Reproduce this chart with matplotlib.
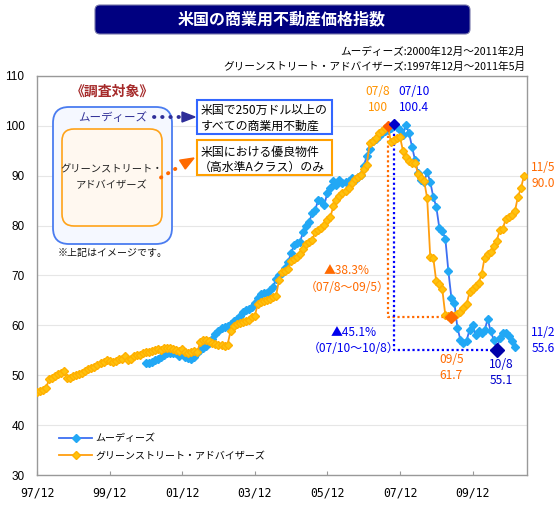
import numpy as np
import matplotlib
matplotlib.use('Agg')
import matplotlib.pyplot as plt
from matplotlib.patches import FancyBboxPatch, Polygon, Rectangle

plt.rcParams['font.family'] = ['Noto Sans CJK JP', 'DejaVu Sans']

# ---------------- data ----------------
title = '米国の商業用不動産価格指数'
subtitle_moodys = 'ムーディーズ:2000年12月～2011年2月'
subtitle_gs = 'グリーンストリート・アドバイザーズ:1997年12月～2011年5月'
series_names = ['ムーディーズ', 'グリーンストリート・アドバイザーズ']

base_ym = (1997, 12)
moodys_start = (2000, 12)
gs_start = (1997, 12)

moodys = [
    52.4, 52.4, 52.6, 53.0, 53.3, 53.6, 54.0, 54.4, 54.5, 54.5,
    54.5, 53.9, 54.4, 53.6, 53.4, 53.2, 53.6, 54.4, 55.0, 55.5,
    55.8, 56.5, 57.3, 58.2, 58.9, 59.5, 59.6, 59.9, 60.3, 60.8,
    61.2, 61.9, 62.6, 63.0, 63.3, 63.6, 64.5, 65.4, 66.3, 66.4,
    66.5, 67.0, 67.6, 69.3, 70.0, 70.6, 71.5, 72.7, 74.5, 76.1,
    76.5, 76.8, 78.8, 80.0, 80.8, 82.5, 83.2, 85.2, 84.9, 84.2,
    86.6, 87.6, 88.9, 88.2, 89.2, 88.5, 88.7, 88.9, 89.5, 89.2,
    89.7, 90.2, 91.9, 93.9, 95.4, 96.9, 97.4, 97.9, 98.5, 98.9,
    99.2, 99.5, 100.4, 99.8, 99.2, 98.2, 100.2, 98.5, 95.8, 93.1,
    90.5, 89.1, 88.8, 90.7, 88.8, 85.8, 83.8, 79.6, 78.9, 77.4,
    70.9, 65.5, 64.5, 59.5, 57.1, 56.4, 56.9, 59.1, 60.1, 58.1,
    58.9, 58.4, 59.0, 61.3, 58.8, 57.1, 55.1, 57.4, 58.4, 58.4,
    57.8, 56.8, 55.6,
]

gs = [
    46.6, 46.9, 47.1, 47.4, 49.3, 49.5, 49.9, 50.2, 50.5, 50.9,
    49.4, 49.5, 49.8, 50.0, 50.2, 50.5, 50.9, 51.3, 51.5, 51.7,
    52.0, 52.4, 52.7, 53.0, 52.8, 52.7, 52.9, 53.2, 53.3, 53.8,
    53.1, 53.2, 53.8, 54.0, 54.1, 54.4, 54.7, 54.6, 54.8, 55.0,
    55.2, 55.0, 55.5, 55.4, 55.5, 55.2, 55.0, 54.9, 55.2, 54.7,
    54.4, 54.6, 54.8, 54.7, 56.7, 57.0, 57.1, 56.8, 56.5, 56.2,
    56.1, 56.0, 55.9, 56.1, 58.9, 59.9, 60.2, 60.5, 60.6, 60.8,
    61.1, 61.6, 61.9, 64.3, 64.6, 64.8, 65.0, 65.3, 65.6, 65.9,
    69.0, 70.7, 71.0, 71.4, 73.0, 73.4, 73.8, 74.4, 75.4, 76.4,
    76.8, 77.1, 78.8, 79.1, 79.5, 80.1, 81.1, 81.8, 83.9, 85.2,
    85.9, 86.5, 87.0, 87.5, 88.5, 89.3, 89.8, 90.2, 91.4, 92.2,
    96.5, 96.9, 97.5, 98.5, 98.9, 99.5, 100.0, 96.8, 97.2, 97.5,
    97.8, 95.0, 93.8, 93.0, 92.6, 92.6, 90.3, 89.6, 88.9, 85.5,
    73.8, 73.6, 68.8, 68.3, 67.2, 62.0, 61.9, 61.7, 61.8, 62.2,
    62.6, 63.5, 64.2, 66.6, 67.3, 67.8, 68.5, 70.3, 73.6, 74.3,
    74.8, 76.0, 77.0, 79.1, 79.4, 81.4, 81.8, 82.2, 82.9, 85.8,
    87.5, 90.0,
]

xtick_labels = ['97/12', '99/12', '01/12', '03/12', '05/12', '07/12', '09/12']
xtick_dates = [(1997, 12), (1999, 12), (2001, 12), (2003, 12), (2005, 12), (2007, 12), (2009, 12)]
yticks = [30, 40, 50, 60, 70, 80, 90, 100, 110]

gs_peak = ((2007, 8), 100.0, '07/8')
moodys_peak = ((2007, 10), 100.4, '07/10')
gs_trough = ((2009, 5), 61.7, '09/5')
moodys_trough = ((2010, 8), 55.1, '10/8')
gs_last = ((2011, 5), 90.0, '11/5')
moodys_last = ((2011, 2), 55.6, '11/2')
gs_drop = ('▲38.3%', '（07/8～09/5）')
moodys_drop = ('▲45.1%', '（07/10～10/8）')

inset_title = '《調査対象》'
inset_outer = 'ムーディーズ'
inset_inner = 'グリーンストリート・\nアドバイザーズ'
inset_note = '※上記はイメージです。'
moodys_desc = ['米国で250万ドル以上の', 'すべての商業用不動産']
gs_desc = ['米国における優良物件', '（高水準Aクラス）のみ']


def midx(ym):
    return (ym[0] - base_ym[0]) * 12 + (ym[1] - base_ym[1])


mx = midx(moodys_start) + np.arange(len(moodys))
gx = midx(gs_start) + np.arange(len(gs))

# colours
C_BLUE_LINE = '#3D6FF2'
C_BLUE_MK = '#22A8F5'
C_OR_LINE = '#FF9E0F'
C_OR_MK = '#FFC20E'
C_OR_TXT = '#FF6A00'
C_OR_TXT2 = '#FF9300'
C_BL_TXT = '#0000EE'

W, H = 558, 508
fig = plt.figure(figsize=(W / 100, H / 100), dpi=100)
ax = fig.add_axes([37 / W, 33 / H, 490 / W, 399 / H])
ax.set_xlim(0, 162)
ax.set_ylim(30, 110)

ax.set_axisbelow(True)
ax.yaxis.grid(True, color='#E6E6E6', lw=0.8)
for s in ax.spines.values():
    s.set_color('#999999')
    s.set_linewidth(1.0)

ax.plot(mx, moodys, color=C_BLUE_LINE, lw=1.3, marker='D', ms=3.8,
        mfc=C_BLUE_MK, mec=C_BLUE_MK, zorder=3, label=series_names[0])
ax.plot(gx, gs, color=C_OR_LINE, lw=1.3, marker='D', ms=3.8,
        mfc=C_OR_MK, mec='#FFB000', zorder=4, label=series_names[1])

# guide dotted lines
gp, gt = midx(gs_peak[0]), midx(gs_trough[0])
mp, mt = midx(moodys_peak[0]), midx(moodys_trough[0])
ax.plot([gp, gp, gt], [gs_peak[1], gs_trough[1], gs_trough[1]], color='#FF6A00',
        ls=(0, (1, 1.2)), lw=1.6, zorder=2)
ax.plot([mp, mp, mt], [moodys_peak[1], moodys_trough[1], moodys_trough[1]], color='#0000FF',
        ls=(0, (1, 1.2)), lw=1.6, zorder=2)

# highlighted points
ax.plot(gp, gs_peak[1], 'D', color='#FF5A00', ms=5.5, zorder=6)
ax.plot(mp, moodys_peak[1], 'D', color='#0000CC', ms=5.5, zorder=6)
ax.plot(gt, gs_trough[1], 'D', color='#FF6A00', ms=6.5, zorder=6)
ax.plot(mt, moodys_trough[1], 'D', color='#0000AA', ms=7, zorder=6)

fs_ann = 8.6
kw = dict(ha='center', va='center', fontsize=fs_ann, linespacing=1.35, clip_on=False)
ax.text(112.7, 105.3, f'{gs_peak[2]}\n{gs_peak[1]:g}', color=C_OR_TXT2, **kw)
ax.text(124.6, 105.3, f'{moodys_peak[2]}\n{moodys_peak[1]}', color=C_BL_TXT, **kw)
ax.text(167.4, 90.1, f'{gs_last[2]}\n{gs_last[1]:.1f}', color=C_OR_TXT, **kw)
ax.text(167.4, 57.0, f'{moodys_last[2]}\n{moodys_last[1]}', color=C_BL_TXT, **kw)
ax.text(137.0, 51.6, f'{gs_trough[2]}\n{gs_trough[1]}', color=C_OR_TXT, **kw)
ax.text(153.4, 50.6, f'{moodys_trough[2]}\n{moodys_trough[1]}', color='#0000CC', **kw)
ax.text(102.5, 69.3, f'{gs_drop[0]}\n{gs_drop[1]}', color=C_OR_TXT, **kw)
ax.text(104.6, 57.0, f'{moodys_drop[0]}\n{moodys_drop[1]}', color=C_BL_TXT, **kw)

# ticks
ax.set_xticks([midx(d) for d in xtick_dates])
ax.set_xticklabels(xtick_labels, fontfamily='DejaVu Sans Mono', fontsize=8.3)
ax.set_yticks(yticks)
ax.set_yticklabels([str(v) for v in yticks], fontfamily='Liberation Sans', fontsize=8.5)
ax.tick_params(axis='x', direction='in', length=3, color='#999999', pad=8)
ax.tick_params(axis='y', length=0, pad=9)

leg = ax.legend(loc='upper left', bbox_to_anchor=(0.045, 0.105), frameon=False,
                fontsize=7.2, handlelength=3.3, labelspacing=0.75, handletextpad=0.3,
                borderaxespad=0, borderpad=0)

# ---------------- overlay decorations (pixel coords) ----------------
ov = fig.add_axes([0, 0, 1, 1], zorder=10)
ov.set_xlim(0, W)
ov.set_ylim(H, 0)
ov.axis('off')
ov.patch.set_alpha(0)

ov.add_patch(FancyBboxPatch((95, 5), 375, 29, boxstyle='round,pad=0,rounding_size=5',
                            fc='#000080', ec='#7777AA', lw=0.8))
ov.text(282, 19.5, title, color='white', fontsize=11.5, fontweight='bold', ha='center', va='center')
ov.text(525, 52, subtitle_moodys, fontsize=7.7, ha='right', va='center')
ov.text(525, 67, subtitle_gs, fontsize=7.7, ha='right', va='center')

# inset image
ov.add_patch(FancyBboxPatch((53, 107), 119, 137, boxstyle='round,pad=0,rounding_size=16',
                            fc='#F5F8FF', ec='#4A7CF0', lw=1.3))
ov.add_patch(FancyBboxPatch((62, 129), 100, 97, boxstyle='round,pad=0,rounding_size=12',
                            fc='#FFF8F0', ec='#FFA31A', lw=1.2))
ov.text(112, 92, inset_title, color='#A52A2A', fontsize=10, fontweight='bold', ha='center', va='center')
ov.text(113, 118, inset_outer, color='#333399', fontsize=8.3, ha='center', va='center')
ov.text(112, 177.5, inset_inner, color='#222222', fontsize=7.4, ha='center', va='center', linespacing=1.65)
ov.text(113, 253, inset_note, color='#111111', fontsize=7.2, ha='center', va='center')

# arrows
ov.plot([154, 182], [117, 117], color='#2E2E99', lw=2.8, ls=(0, (0.1, 2.0)),
        dash_capstyle='round')
ov.add_patch(Polygon([(182, 112), (195, 117), (182, 122)], closed=True, color='#2E2E99'))
ov.plot([161, 181], [177.5, 165.5], color='#FF6A00', lw=2.8, ls=(0, (0.1, 2.0)),
        dash_capstyle='round')
ov.add_patch(Polygon([(185.3, 169.0), (194.0, 158.0), (179.6, 160.2)], closed=True, color='#FF6A00'))

# description boxes
ov.add_patch(Rectangle((197, 100), 135, 34, fc='white', ec='#3366FF', lw=1.5))
ov.text(201, 110, moodys_desc[0], fontsize=8.6, ha='left', va='center')
ov.text(201, 126, moodys_desc[1], fontsize=8.6, ha='left', va='center')
ov.add_patch(Rectangle((197, 140), 135, 35, fc='white', ec='#FFA000', lw=1.5))
ov.text(201, 152, gs_desc[0], fontsize=8.6, ha='left', va='center')
ov.text(199, 167, gs_desc[1], fontsize=8.6, ha='left', va='center')

fig.savefig('out.png', dpi=100)
